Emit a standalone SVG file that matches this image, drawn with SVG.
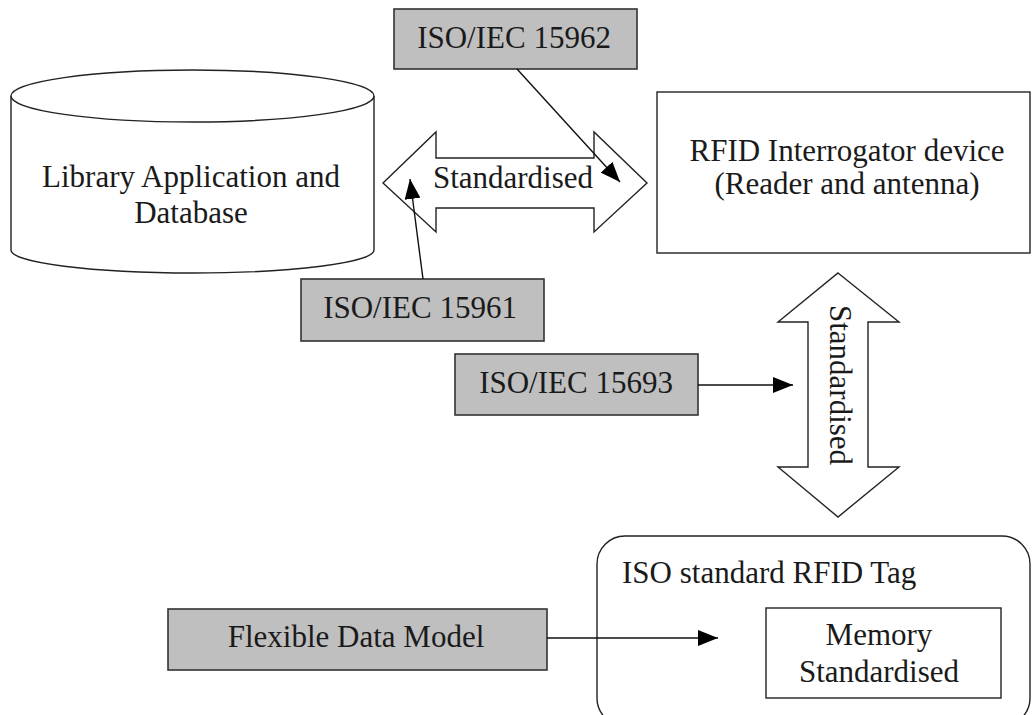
<svg xmlns="http://www.w3.org/2000/svg" width="1033" height="715" viewBox="0 0 1033 715">
<style>
text{font-family:"Liberation Serif","Times New Roman",serif;font-size:31px;fill:#1a1a1a}
.m{text-anchor:middle}
.s{font-size:30px}
.g{fill:#bfbfbf;stroke:#333;stroke-width:1.6}
.w{fill:#fff;stroke:#222;stroke-width:1.4}
.c{stroke:#111;stroke-width:1.4;fill:none}
</style>
<defs>
<marker id="ah" markerUnits="userSpaceOnUse" markerWidth="20" markerHeight="16" refX="20" refY="8" orient="auto">
<path d="M0,0 L20,8 L0,16 z" fill="#000"/>
</marker>
</defs>
<rect width="1033" height="715" fill="#fff"/>

<g id="library">
<path class="w" d="M11,96 L11,250 A181.5,23 0 0 0 374,250 L374,96"/>
<ellipse class="w" cx="192.5" cy="96" rx="181.5" ry="26"/>
<text class="m" x="191" y="187">Library Application and</text>
<text class="m" x="191" y="223">Database</text>
</g>

<g id="rfid-device">
<rect class="w" x="657" y="92" width="373" height="161"/>
<text class="m" x="847" y="161">RFID Interrogator device</text>
<text class="m" x="847" y="194">(Reader and antenna)</text>
</g>

<g id="arrow-h">
<polygon class="w" points="383,183 436,132 436,158 594,158 594,132 647,183 594,232 594,208 436,208 436,232"/>
<text class="m" x="513" y="188">Standardised</text>
</g>

<g id="arrow-v">
<polygon class="w" points="838,273 899,322 868,322 868,467 899,467 838,517 778,467 808,467 808,322 778,322"/>
<text class="m" transform="translate(830,385) rotate(90)">Standardised</text>
</g>

<g id="iso15962">
<rect class="g" x="394" y="9" width="243" height="60"/>
<text class="m" x="514" y="48">ISO/IEC 15962</text>
</g>

<g id="iso15961">
<rect class="g" x="301" y="279" width="243" height="62"/>
<text class="m" x="420" y="318">ISO/IEC 15961</text>
</g>

<g id="iso15693">
<rect class="g" x="455" y="354" width="243" height="61"/>
<text class="m" x="576" y="393">ISO/IEC 15693</text>
</g>

<g id="tag">
<rect class="w" x="597" y="536" width="433" height="190" rx="28" ry="28"/>
<text x="622" y="583">ISO standard RFID Tag</text>
</g>

<g id="memory">
<rect class="w" x="766" y="608" width="235" height="90"/>
<text class="m" x="879" y="645">Memory</text>
<text class="m" x="879" y="682">Standardised</text>
</g>

<g id="flexible">
<rect class="g" x="168" y="609" width="379" height="61"/>
<text class="m" x="356" y="647">Flexible Data Model</text>
</g>

<g id="connectors">
<line class="c" x1="517" y1="69" x2="620" y2="182" marker-end="url(#ah)"/>
<line class="c" x1="423" y1="279" x2="410" y2="179" marker-end="url(#ah)"/>
<line class="c" x1="698" y1="385" x2="793" y2="385" marker-end="url(#ah)"/>
<line class="c" x1="547" y1="638" x2="718" y2="638" marker-end="url(#ah)"/>
</g>
</svg>
